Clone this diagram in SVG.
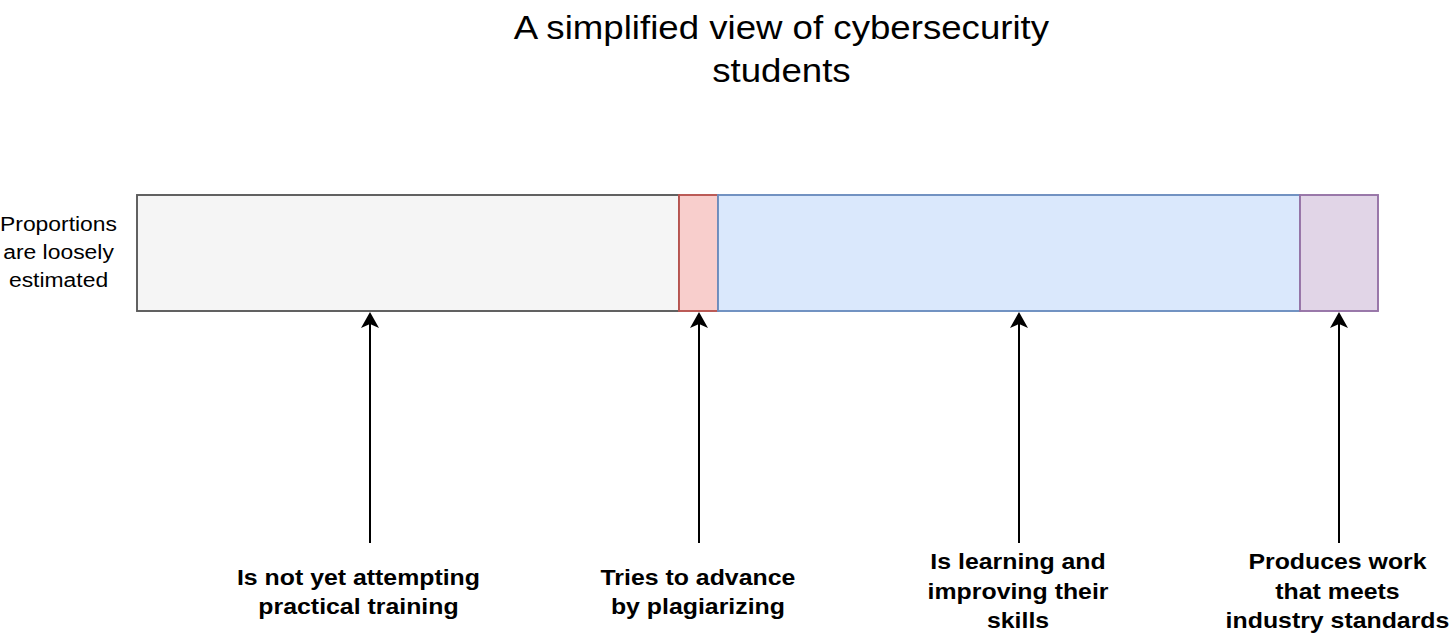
<svg xmlns="http://www.w3.org/2000/svg" width="1456" height="638" viewBox="0 0 1456 638">
  <style>
    .t { font-family: "Liberation Sans", Arial, sans-serif; fill: #000000; text-anchor: middle; }
    .title { font-size: 33.3px; }
    .note { font-size: 20.8px; }
    .lbl { font-size: 22.6px; font-weight: bold; }
    .seg { stroke-width: 1.9; }
    .arrow { stroke: #000000; stroke-width: 2; fill: none; marker-end: url(#arrowhead); }
  </style>
  <defs>
    <marker id="arrowhead" markerUnits="userSpaceOnUse" viewBox="0 -9 16 18" markerWidth="16" markerHeight="18" refX="4" refY="0" orient="auto">
      <path d="M0,-9 L16,0 L0,9 L4,0 Z" fill="#000000"/>
    </marker>
  </defs>
  <rect width="1456" height="638" fill="#ffffff"/>

  <g id="title">
    <text class="t title" transform="scale(1.1 1)" x="710.4" y="39">A simplified view of cybersecurity</text>
    <text class="t title" transform="scale(1.1 1)" x="710.4" y="82">students</text>
  </g>

  <g id="note">
    <text class="t note" transform="scale(1.1 1)" x="53.2" y="231">Proportions</text>
    <text class="t note" transform="scale(1.1 1)" x="53.2" y="259">are loosely</text>
    <text class="t note" transform="scale(1.1 1)" x="53.2" y="287">estimated</text>
  </g>

  <g id="seg-not-attempting">
    <rect class="seg" x="137" y="195" width="542" height="116" fill="#f5f5f5" stroke="#5a5a5a"/>
  </g>
  <g id="seg-plagiarizing">
    <rect class="seg" x="679" y="195" width="39" height="116" fill="#f8cecc" stroke="#b85450"/>
  </g>
  <g id="seg-learning">
    <rect class="seg" x="718" y="195" width="582" height="116" fill="#dae8fc" stroke="#6c8ebf"/>
  </g>
  <g id="seg-industry">
    <rect class="seg" x="1300" y="195" width="78" height="116" fill="#e1d5e7" stroke="#9673a6"/>
  </g>

  <g id="connectors">
    <line class="arrow" x1="370" y1="543" x2="370" y2="324"/>
    <line class="arrow" x1="699" y1="543" x2="699" y2="324"/>
    <line class="arrow" x1="1019" y1="543" x2="1019" y2="324"/>
    <line class="arrow" x1="1339" y1="543" x2="1339" y2="324"/>
  </g>

  <g id="label-not-attempting">
    <text class="t lbl" transform="scale(1.1 1)" x="325.9" y="585">Is not yet attempting</text>
    <text class="t lbl" transform="scale(1.1 1)" x="325.9" y="614.5">practical training</text>
  </g>
  <g id="label-plagiarizing">
    <text class="t lbl" transform="scale(1.1 1)" x="634.5" y="585">Tries to advance</text>
    <text class="t lbl" transform="scale(1.1 1)" x="634.5" y="614.5">by plagiarizing</text>
  </g>
  <g id="label-learning">
    <text class="t lbl" transform="scale(1.1 1)" x="925.5" y="569.5">Is learning and</text>
    <text class="t lbl" transform="scale(1.1 1)" x="925.5" y="599">improving their</text>
    <text class="t lbl" transform="scale(1.1 1)" x="925.5" y="628.5">skills</text>
  </g>
  <g id="label-industry">
    <text class="t lbl" transform="scale(1.1 1)" x="1215.9" y="569.5">Produces work</text>
    <text class="t lbl" transform="scale(1.1 1)" x="1215.9" y="599">that meets</text>
    <text class="t lbl" transform="scale(1.1 1)" x="1215.9" y="628.5">industry standards</text>
  </g>
</svg>
